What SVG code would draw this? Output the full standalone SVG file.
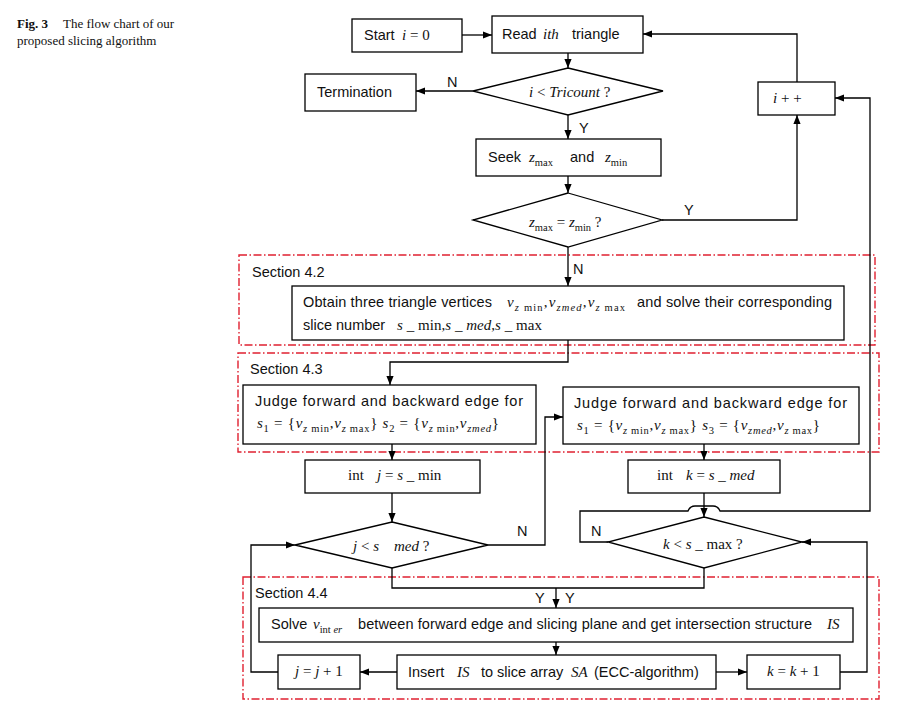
<svg xmlns="http://www.w3.org/2000/svg" width="901" height="722" viewBox="0 0 901 722">
<style>
.box{fill:#fff;stroke:#000;stroke-width:1.3}
.sec{fill:none;stroke:#e02030;stroke-width:1.4;stroke-dasharray:8 2.5 1.5 2.5}
.c{fill:none;stroke:#000;stroke-width:1.3}
.t{font-family:"Liberation Sans",Arial,sans-serif;font-size:14.5px;fill:#111}
.m{font-family:"Liberation Serif","Times New Roman",serif;font-size:15px;fill:#111}
.i{font-style:italic}
.s{font-size:10.5px}
.cap{font-family:"Liberation Serif","Times New Roman",serif;font-size:13px;fill:#111}
</style>
<defs>
<marker id="a" viewBox="0 0 10 10" refX="10" refY="5" markerWidth="9" markerHeight="9" markerUnits="userSpaceOnUse" orient="auto"><path d="M0,1 L10,5 L0,9 z" fill="#000"/></marker>
</defs>
<rect width="901" height="722" fill="#fff"/>
<g id="caption">
<text class="cap" x="17" y="28"><tspan font-weight="bold">Fig. 3</tspan><tspan x="63">The flow chart of our</tspan></text>
<text class="cap" x="17" y="45">proposed slicing algorithm</text>
</g>
<g id="sections">
<rect class="sec" x="239" y="255" width="636" height="90"/>
<rect class="sec" x="238" y="353" width="641" height="99"/>
<rect class="sec" x="243" y="577" width="636" height="122"/>
<text class="t" x="252" y="277">Section 4.2</text>
<text class="t" x="250" y="374">Section 4.3</text>
<text class="t" x="255" y="598">Section 4.4</text>
</g>
<g id="connectors">
<path class="c" d="M462,35 L492,35" marker-end="url(#a)"/>
<path class="c" d="M568,53 L568,68" marker-end="url(#a)"/>
<path class="c" d="M473,91 L416,91" marker-end="url(#a)"/>
<path class="c" d="M568,115 L568,139" marker-end="url(#a)"/>
<path class="c" d="M568,176 L568,193" marker-end="url(#a)"/>
<path class="c" d="M662,220 L797,220 L797,115" marker-end="url(#a)"/>
<path class="c" d="M797,82 L797,34 L643,34" marker-end="url(#a)"/>
<path class="c" d="M568,247 L568,286" marker-end="url(#a)"/>
<path class="c" d="M568,340 L568,362 L390,362 L390,385" marker-end="url(#a)"/>
<path class="c" d="M392,444 L392,460" marker-end="url(#a)"/>
<path class="c" d="M392,493 L392,522" marker-end="url(#a)"/>
<path class="c" d="M488,545 L545,545 L545,417 L563,417" marker-end="url(#a)"/>
<path class="c" d="M704,444 L704,460" marker-end="url(#a)"/>
<path class="c" d="M704,493 L704,517" marker-end="url(#a)"/>
<path class="c" d="M608,542 L580,542 L580,511 L688,511 Q690,506 695,506 L713,506 Q718,506 720,511 L870,511 L870,98 L835,98" marker-end="url(#a)"/>
<path class="c" d="M392,568 L392,588 L704,588 L704,568"/>
<path class="c" d="M556,588 L556,608" marker-end="url(#a)"/>
<path class="c" d="M556,642 L556,655" marker-end="url(#a)"/>
<path class="c" d="M397,672 L360,672" marker-end="url(#a)"/>
<path class="c" d="M278,672 L251,672 L251,545 L295,545" marker-end="url(#a)"/>
<path class="c" d="M716,672 L747,672" marker-end="url(#a)"/>
<path class="c" d="M840,672 L867,672 L867,542 L802,542" marker-end="url(#a)"/>
<text class="t" x="447" y="87">N</text>
<text class="t" x="579" y="133">Y</text>
<text class="t" x="684" y="215">Y</text>
<text class="t" x="573" y="274">N</text>
<text class="t" x="517" y="536">N</text>
<text class="t" x="591" y="536">N</text>
<text class="t" x="535" y="603">Y</text>
<text class="t" x="565" y="603">Y</text>
</g>
<g id="start">
<rect class="box" x="352" y="19" width="110" height="33"/>
<text class="t" x="364" y="40">Start</text>
<text class="m" x="402" y="40"><tspan class="i">i</tspan> = 0</text>
</g>
<g id="read">
<rect class="box" x="492" y="16" width="151" height="37"/>
<text class="t" x="502" y="39">Read</text>
<text class="m i" x="543" y="39">ith</text>
<text class="t" x="572" y="39">triangle</text>
</g>
<g id="cond-tricount">
<polygon class="box" points="568,68 663,91 568,115 473,91"/>
<text class="m" x="529" y="97"><tspan class="i">i</tspan> &lt; <tspan class="i">Tricount</tspan> ?</text>
</g>
<g id="termination">
<rect class="box" x="305" y="74" width="111" height="37"/>
<text class="t" x="317" y="97">Termination</text>
</g>
<g id="inc-i">
<rect class="box" x="758" y="82" width="77" height="33"/>
<text class="m" x="773" y="103"><tspan class="i">i</tspan> + +</text>
</g>
<g id="seek">
<rect class="box" x="476" y="139" width="185" height="37"/>
<text class="t" x="488" y="162">Seek</text>
<text class="m" x="529" y="162"><tspan class="i">z</tspan><tspan class="s" dy="4">max</tspan></text>
<text class="t" x="570" y="162">and</text>
<text class="m" x="605" y="162"><tspan class="i">z</tspan><tspan class="s" dy="4">min</tspan></text>
</g>
<g id="cond-z">
<polygon class="box" points="568,193 662,220 568,247 473,220"/>
<text class="m" x="529" y="227"><tspan class="i">z</tspan><tspan class="s" dy="4">max</tspan><tspan dy="-4"> = </tspan><tspan class="i">z</tspan><tspan class="s" dy="4">min</tspan><tspan dy="-4"> ?</tspan></text>
</g>
<g id="obtain">
<rect class="box" x="292" y="286" width="552" height="54"/>
<text class="t" x="303" y="307" textLength="189">Obtain three triangle vertices</text>
<text class="m" x="507" y="307" textLength="118"><tspan class="i">v</tspan><tspan class="s" dy="4"><tspan class="i">z</tspan> min</tspan><tspan dy="-4">,</tspan><tspan class="i">v</tspan><tspan class="s i" dy="4">zmed</tspan><tspan dy="-4">,</tspan><tspan class="i">v</tspan><tspan class="s" dy="4"><tspan class="i">z</tspan> max</tspan></text>
<text class="t" x="637" y="307" textLength="195">and solve their corresponding</text>
<text class="t" x="303" y="330">slice number</text>
<text class="m" x="397" y="330" textLength="145"><tspan class="i">s</tspan> _ min,<tspan class="i">s</tspan> _ <tspan class="i">med</tspan>,<tspan class="i">s</tspan> _ max</text>
</g>
<g id="judge-left">
<rect class="box" x="243" y="385" width="293" height="59"/>
<text class="t" x="255" y="406" textLength="268">Judge forward and backward edge for</text>
<text class="m" x="257" y="428" textLength="242"><tspan class="i">s</tspan><tspan class="s" dy="4">1</tspan><tspan dy="-4"> = {</tspan><tspan class="i">v</tspan><tspan class="s" dy="4"><tspan class="i">z</tspan> min</tspan><tspan dy="-4">,</tspan><tspan class="i">v</tspan><tspan class="s" dy="4"><tspan class="i">z</tspan> max</tspan><tspan dy="-4">} </tspan><tspan class="i">s</tspan><tspan class="s" dy="4">2</tspan><tspan dy="-4"> = {</tspan><tspan class="i">v</tspan><tspan class="s" dy="4"><tspan class="i">z</tspan> min</tspan><tspan dy="-4">,</tspan><tspan class="i">v</tspan><tspan class="s i" dy="4">zmed</tspan><tspan dy="-4">}</tspan></text>
</g>
<g id="judge-right">
<rect class="box" x="563" y="387" width="296" height="57"/>
<text class="t" x="574" y="408" textLength="273">Judge forward and backward edge for</text>
<text class="m" x="577" y="430" textLength="243"><tspan class="i">s</tspan><tspan class="s" dy="4">1</tspan><tspan dy="-4"> = {</tspan><tspan class="i">v</tspan><tspan class="s" dy="4"><tspan class="i">z</tspan> min</tspan><tspan dy="-4">,</tspan><tspan class="i">v</tspan><tspan class="s" dy="4"><tspan class="i">z</tspan> max</tspan><tspan dy="-4">} </tspan><tspan class="i">s</tspan><tspan class="s" dy="4">3</tspan><tspan dy="-4"> = {</tspan><tspan class="i">v</tspan><tspan class="s i" dy="4">zmed</tspan><tspan dy="-4">,</tspan><tspan class="i">v</tspan><tspan class="s" dy="4"><tspan class="i">z</tspan> max</tspan><tspan dy="-4">}</tspan></text>
</g>
<g id="init-j">
<rect class="box" x="305" y="460" width="175" height="33"/>
<text class="m" x="348" y="480" font-size="14"><tspan>int</tspan><tspan x="377" class="i">j</tspan> = <tspan class="i">s</tspan> _ min</text>
</g>
<g id="init-k">
<rect class="box" x="628" y="460" width="152" height="33"/>
<text class="m" x="657" y="480" font-size="14"><tspan>int</tspan><tspan x="686" class="i">k</tspan> = <tspan class="i">s</tspan> _ <tspan class="i">med</tspan></text>
</g>
<g id="cond-j">
<polygon class="box" points="392,522 488,545 392,568 295,545"/>
<text class="m" x="353" y="551"><tspan class="i">j</tspan> &lt; <tspan class="i">s</tspan><tspan x="394" class="i">med</tspan> ?</text>
</g>
<g id="cond-k">
<polygon class="box" points="704,517 802,542 704,568 608,542"/>
<text class="m" x="663" y="549"><tspan class="i">k</tspan> &lt; <tspan class="i">s</tspan> _ max ?</text>
</g>
<g id="solve">
<rect class="box" x="259" y="608" width="594" height="34"/>
<text class="t" x="271" y="629">Solve</text>
<text class="m" x="313" y="629"><tspan class="i">v</tspan><tspan class="s" dy="4">int <tspan class="i">er</tspan></tspan></text>
<text class="t" x="358" y="629" textLength="454">between forward edge and slicing plane and get intersection structure</text>
<text class="m i" x="827" y="629">IS</text>
</g>
<g id="insert">
<rect class="box" x="397" y="655" width="319" height="34"/>
<text class="t" x="408" y="677">Insert</text>
<text class="m i" x="457" y="677">IS</text>
<text class="t" x="481" y="677">to slice array</text>
<text class="m i" x="571" y="677">SA</text>
<text class="t" x="594" y="677">(ECC-algorithm)</text>
</g>
<g id="inc-j">
<rect class="box" x="278" y="655" width="82" height="34"/>
<text class="m" x="295" y="676"><tspan class="i">j</tspan> = <tspan class="i">j</tspan> + 1</text>
</g>
<g id="inc-k">
<rect class="box" x="747" y="655" width="93" height="34"/>
<text class="m" x="767" y="676"><tspan class="i">k</tspan> = <tspan class="i">k</tspan> + 1</text>
</g>
</svg>
